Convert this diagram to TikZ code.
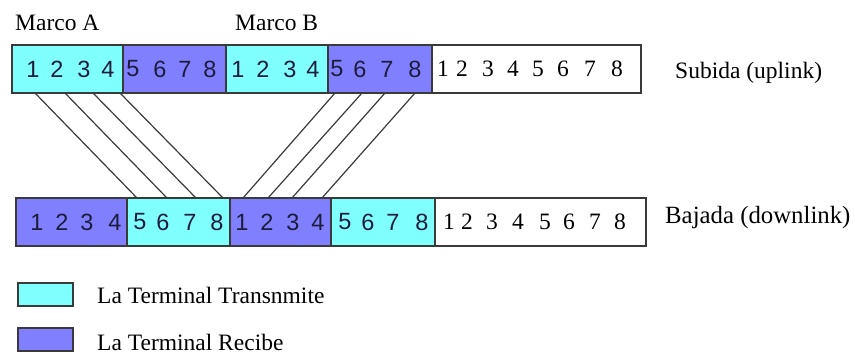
\documentclass[tikz,border=0pt]{standalone}
\usepackage{fontspec}
\setmainfont{Liberation Serif}
\newfontfamily\digitsans{Liberation Sans}
\definecolor{txcyan}{HTML}{80FFFF}
\definecolor{rxblue}{HTML}{8080FF}
\definecolor{edgegray}{HTML}{3A3A3A}
\definecolor{numcol}{HTML}{1C1C3C}
\tikzset{
  slot/.style={draw=edgegray, line width=1.5pt, anchor=north west, inner sep=0pt, outer sep=0pt, minimum height=48pt},
  tx/.style={slot, fill=txcyan},
  rx/.style={slot, fill=rxblue},
  idle/.style={slot, fill=white},
  num/.style={inner sep=0pt, font=\fontsize{23.5}{24}\digitsans, text=numcol},
  numw/.style={inner sep=0pt, font=\fontsize{23.5}{24}\selectfont, text=black},
  label/.style={inner sep=0pt, anchor=base west, font=\fontsize{23.5}{28}\selectfont},
  link/.style={draw=edgegray, line width=1.2pt},
  key/.style={draw=edgegray, line width=1.5pt, inner sep=0pt, outer sep=0pt, anchor=north west, minimum width=55pt, minimum height=23pt}
}
% digits of one slot: cell name, first digit, style, list of x offsets from the cell's west side
\newcommand\cellnums[4]{%
  \foreach \o [count=\k from 0] in {#4} {%
    \pgfmathtruncatemacro\d{#2+\k}%
    \node[#3] (#1n\k) at ([xshift=\o pt]#1.west) {\d};
  }%
}
\begin{document}
\begin{tikzpicture}[x=1pt, y=-1pt]
  \useasboundingbox (0,0) rectangle (855,354);

  % uplink frame
  \node[tx,   minimum width=111pt] (a1) at (12,45)  {};
  \node[rx,   minimum width=103pt] (a2) at (123,45) {};
  \node[tx,   minimum width=102pt] (a3) at (226,45) {};
  \node[rx,   minimum width=104pt] (a4) at (328,45) {};
  \node[idle, minimum width=209pt] (a5) at (432,45) {};

  % downlink frame
  \node[rx,   minimum width=111pt] (b1) at (16,198)  {};
  \node[tx,   minimum width=103pt] (b2) at (127,198) {};
  \node[rx,   minimum width=101pt] (b3) at (230,198) {};
  \node[tx,   minimum width=104pt] (b4) at (331,198) {};
  \node[idle, minimum width=211pt] (b5) at (435,198) {};

  % slot numbers
  \cellnums{a1}{1}{num}{21,45,72,96}
  \cellnums{a2}{5}{num}{10,37,62,87}
  \cellnums{a3}{1}{num}{12,37,64,87}
  \cellnums{a4}{5}{num}{9,32,59,87}
  \cellnums{a5}{1}{numw}{11,30,56,81,106,131,158,185}
  \cellnums{b1}{1}{num}{21,46,71,99}
  \cellnums{b2}{5}{num}{13,36,63,90}
  \cellnums{b3}{1}{num}{12,37,63,88}
  \cellnums{b4}{5}{num}{14,37,62,91}
  \cellnums{b5}{1}{numw}{14,32,57,83,110,134,160,185}

  % slot mapping between the two frames
  \foreach \t/\b in {23/10, 53/40, 81/69, 108/96}
    \draw[link] ([xshift=\t pt]a1.south west) -- ([xshift=\b pt]b2.north west);
  \foreach \t/\b in {7/13, 34/38, 57/62, 87/92}
    \draw[link] ([xshift=\t pt]a4.south west) -- ([xshift=\b pt]b3.north west);

  % labels
  \node[label] (marcoA) at (15,30)  {Marco A};
  \node[label] (marcoB) at (235,30) {Marco B};
  \node[label] (up)     at (675,78) {Subida (uplink)};
  \node[label, font=\fontsize{24.8}{28}\selectfont] (down) at (665,223) {Bajada (downlink)};

  % legend
  \node[key, fill=txcyan] (k1) at (18,283) {};
  \node[key, fill=rxblue] (k2) at (18,328) {};
  \node[label] (k1t) at (97,303) {La Terminal Transnmite};
  \node[label] (k2t) at (97,350) {La Terminal Recibe};
\end{tikzpicture}
\end{document}
